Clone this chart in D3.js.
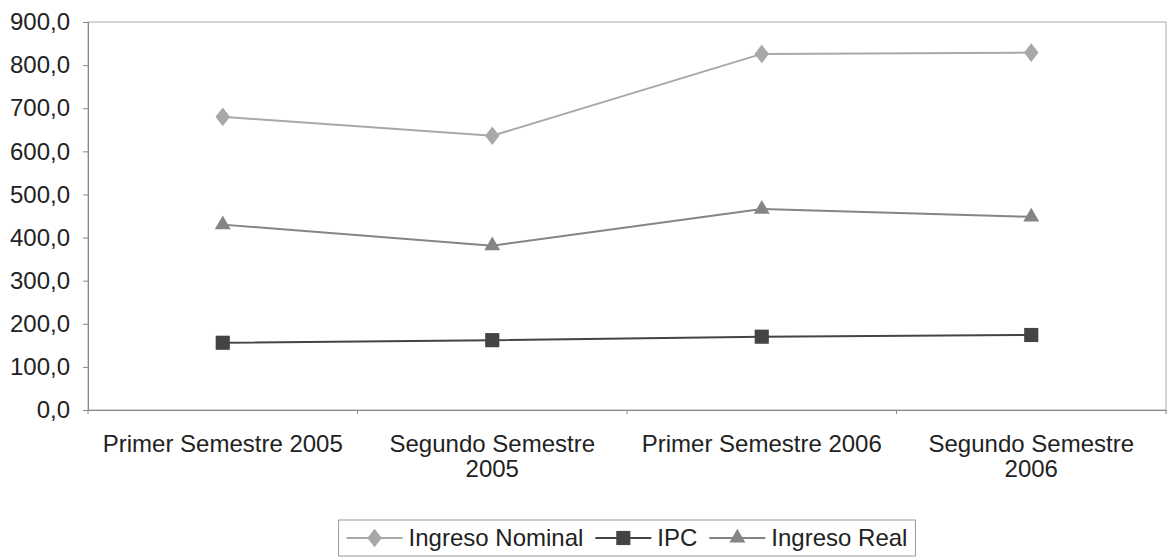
<!DOCTYPE html>
<html>
<head>
<meta charset="utf-8">
<script src="https://cdn.jsdelivr.net/npm/d3@7"></script>
<style>
  body { margin: 0; background: #fff; }
  text { font-family: "Liberation Sans", Arial, sans-serif; fill: #222; }
</style>
</head>
<body>
<script>
// categories and series
var categories = ["Primer Semestre 2005", "Segundo Semestre 2005", "Primer Semestre 2006", "Segundo Semestre 2006"];
var nominal = [680, 636, 826, 829];
var ipc = [156, 162, 170, 174];
var real = [430, 381, 466, 448];
var yTicks = [0, 100, 200, 300, 400, 500, 600, 700, 800, 900];

var series = [
  { name: "Ingreso Nominal", values: nominal, color: "#a8a8a8", marker: d3.symbolDiamond, size: 100, sx: 1.35 },
  { name: "IPC", values: ipc, color: "#444", marker: d3.symbolSquare, size: 200, sx: 1 },
  { name: "Ingreso Real", values: real, color: "#858585", marker: d3.symbolTriangle, size: 110, sx: 1 }
];

var W = 1168, H = 560;
var margin = { top: 22, right: 2, bottom: 150, left: 88 },
    width = W - margin.left - margin.right,
    height = H - margin.top - margin.bottom;

var svg = d3.select("body").append("svg")
    .attr("width", W)
    .attr("height", H);

var g = svg.append("g")
    .attr("transform", "translate(" + margin.left + "," + margin.top + ")");

var x = d3.scaleBand().domain(categories).range([0, width]);
var y = d3.scaleLinear().domain([0, 900]).range([height, 0]);

var fmt = function(d) { return d3.format(".1f")(d).replace(".", ","); };

// plot frame
g.append("rect")
    .attr("width", width)
    .attr("height", height)
    .attr("fill", "none")
    .attr("stroke", "#aaa");

// y axis
var yAxis = g.append("g")
    .call(d3.axisLeft(y).tickValues(yTicks).tickFormat(fmt).tickSize(5).tickPadding(13));
yAxis.select(".domain").attr("stroke", "#888");
yAxis.selectAll(".tick line").attr("stroke", "#888");
yAxis.selectAll("text").style("font-size", "24px").attr("fill", "#222");

// x axis with ticks on category boundaries
var xAxis = g.append("g")
    .attr("transform", "translate(0," + height + ")")
    .call(d3.axisBottom(x).tickSize(0).tickPadding(25));
xAxis.select(".domain").attr("stroke", "#888");
xAxis.selectAll("text").style("font-size", "24px").attr("fill", "#222").call(wrap, 250);

g.append("g").selectAll("line")
    .data(categories.concat([null]))
    .enter().append("line")
    .attr("x1", function(d, i) { return i * x.bandwidth(); })
    .attr("x2", function(d, i) { return i * x.bandwidth(); })
    .attr("y1", height)
    .attr("y2", height + 4)
    .attr("stroke", "#888");

// lines and markers
var line = d3.line()
    .x(function(d, i) { return x(categories[i]) + x.bandwidth() / 2; })
    .y(function(d) { return y(d); });

series.forEach(function(s) {
  g.append("path")
      .datum(s.values)
      .attr("d", line)
      .attr("fill", "none")
      .attr("stroke", s.color)
      .attr("stroke-width", 2);

  g.selectAll(null)
      .data(s.values)
      .enter().append("path")
      .attr("d", d3.symbol().type(s.marker).size(s.size))
      .attr("transform", function(d, i) {
        return "translate(" + (x(categories[i]) + x.bandwidth() / 2) + "," + y(d) + ") scale(" + s.sx + ",1)";
      })
      .attr("fill", s.color);
});

// legend
var legend = svg.append("g");
var lx = 0;
series.forEach(function(s) {
  var item = legend.append("g").attr("transform", "translate(" + lx + ",0)");
  item.append("line")
      .attr("x1", 0).attr("x2", 56)
      .attr("stroke", s.color).attr("stroke-width", 2);
  item.append("path")
      .attr("d", d3.symbol().type(s.marker).size(s.size))
      .attr("transform", "translate(28,0) scale(" + s.sx + ",1)")
      .attr("fill", s.color);
  var t = item.append("text")
      .attr("x", 62)
      .attr("dy", "0.35em")
      .style("font-size", "24px")
      .text(s.name);
  lx += 62 + t.node().getComputedTextLength() + 12;
});
var lw = lx - 12;
var lcx = 627, lcy = 538;
legend.attr("transform", "translate(" + (lcx - lw / 2) + "," + lcy + ")");
legend.insert("rect", ":first-child")
    .attr("x", -8).attr("y", -18)
    .attr("width", lw + 16).attr("height", 36)
    .attr("fill", "#fff")
    .attr("stroke", "#999");

function wrap(text, w) {
  text.each(function() {
    var text = d3.select(this),
        words = text.text().split(/\s+/).reverse(),
        word, line = [], lineNumber = 0,
        lineHeight = 25,
        yy = text.attr("y"),
        dy = parseFloat(text.attr("dy")),
        tspan = text.text(null).append("tspan").attr("x", 0).attr("y", yy).attr("dy", dy + "em");
    while (word = words.pop()) {
      line.push(word);
      tspan.text(line.join(" "));
      if (tspan.node().getComputedTextLength() > w && line.length > 1) {
        line.pop();
        tspan.text(line.join(" "));
        line = [word];
        tspan = text.append("tspan").attr("x", 0).attr("y", yy)
            .attr("dy", (++lineNumber * lineHeight) + dy * 24 + "px").text(word);
      }
    }
  });
}
</script>
</body>
</html>
